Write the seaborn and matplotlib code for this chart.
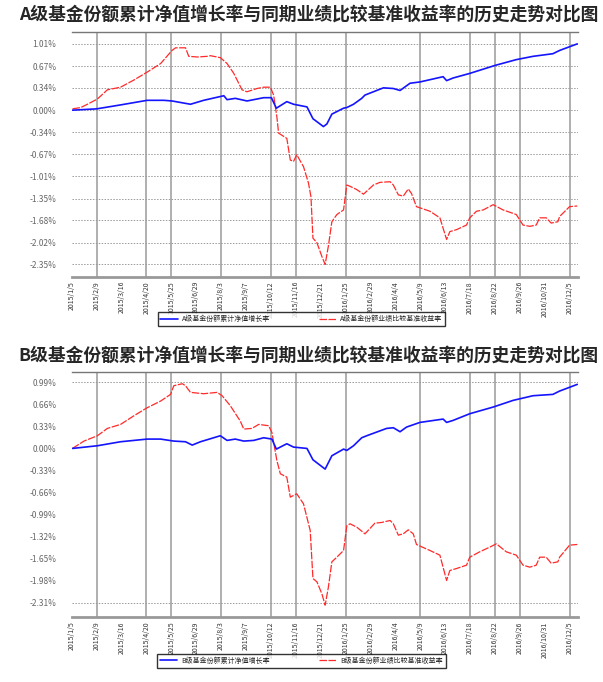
import numpy as np
import pandas as pd
import matplotlib
matplotlib.use("Agg")
import matplotlib.pyplot as plt
import seaborn as sns

sns.set_style("white")
plt.rcParams['font.family'] = ['Noto Sans CJK SC', 'DejaVu Sans']
plt.rcParams['axes.unicode_minus'] = False

# x axis: category-like date ticks, one label per step
date_labels = ['2015/1/5', '2015/2/9', '2015/3/16', '2015/4/20', '2015/5/25', '2015/6/29',
               '2015/8/3', '2015/9/7', '2015/10/12', '2015/11/16', '2015/12/21', '2016/1/25',
               '2016/2/29', '2016/4/4', '2016/5/9', '2016/6/13', '2016/7/18', '2016/8/22',
               '2016/9/26', '2016/10/31', '2016/12/5']
vgrid_idx = [1, 3, 4, 6, 8, 9, 11, 14, 16, 17, 18, 20]

# A share class
a_title = 'A级基金份额累计净值增长率与同期业绩比较基准收益率的历史走势对比图'
a_nav_label = 'A级基金份额累计净值增长率'
a_bm_label = 'A级基金份额业绩比较基准收益率'
a_ytick_vals = [1.01, 0.67, 0.34, 0.00, -0.34, -0.67, -1.01, -1.35, -1.68, -2.02, -2.35]
a_ytick_text = ['1.01%', '0.67%', '0.34%', '0.00%', '-0.34%', '-0.67%', '-1.01%',
                '-1.35%', '-1.68%', '-2.02%', '-2.35%']
a_nav_x = [0.03, 1.00, 1.96, 3.03, 3.70, 4.03, 4.77, 5.30, 6.11, 6.24, 6.57, 7.04, 7.71, 8.02,
           8.22, 8.64, 8.91, 9.45, 9.69, 10.11, 10.25, 10.45, 10.92, 11.05, 11.32, 11.65, 11.78,
           12.52, 12.92, 13.19, 13.59, 13.99, 14.92, 15.06, 15.32, 15.99, 16.99, 17.86, 18.53,
           19.33, 19.60, 20.31]
a_nav_y = [0.00, 0.02, 0.08, 0.15, 0.15, 0.14, 0.09, 0.15, 0.22, 0.16, 0.18, 0.14, 0.19, 0.19,
           0.03, 0.13, 0.09, 0.05, -0.13, -0.25, -0.21, -0.06, 0.03, 0.04, 0.09, 0.18, 0.23,
           0.34, 0.33, 0.30, 0.41, 0.43, 0.51, 0.45, 0.49, 0.56, 0.68, 0.77, 0.82,
           0.86, 0.91, 1.01]
a_bm_x = [0.03, 0.36, 0.63, 1.03, 1.43, 1.96, 2.50, 3.03, 3.57, 4.03, 4.17, 4.57, 4.70, 5.04,
          5.44, 5.57, 5.97, 6.24, 6.51, 6.84, 7.04, 7.44, 7.71, 7.98, 8.11, 8.24, 8.31, 8.64,
          8.78, 8.91, 9.04, 9.31, 9.51, 9.61, 9.69, 9.85, 10.05, 10.18, 10.31, 10.45, 10.65,
          10.92, 11.05, 11.18, 11.45, 11.72, 12.12, 12.38, 12.79, 12.92, 13.12, 13.32, 13.52,
          13.65, 13.85, 14.39, 14.79, 15.06, 15.19, 15.46, 15.86, 15.99, 16.26, 16.53, 16.93,
          17.33, 17.86, 18.13, 18.40, 18.66, 18.80, 19.06, 19.26, 19.53, 19.60, 20.00, 20.31]
a_bm_y = [0.02, 0.04, 0.09, 0.17, 0.31, 0.35, 0.46, 0.58, 0.71, 0.91, 0.95, 0.95, 0.82, 0.81,
          0.82, 0.83, 0.80, 0.71, 0.56, 0.31, 0.28, 0.33, 0.35, 0.35, 0.23, -0.10, -0.35, -0.43,
          -0.76, -0.78, -0.68, -0.86, -1.11, -1.32, -1.95, -2.02, -2.23, -2.35, -2.07, -1.70, -1.59,
          -1.52, -1.14, -1.16, -1.21, -1.28, -1.14, -1.10, -1.09, -1.14, -1.29, -1.31, -1.20,
          -1.27, -1.47, -1.54, -1.64, -1.97, -1.85, -1.82, -1.75, -1.64, -1.54, -1.52, -1.44,
          -1.52, -1.59, -1.75, -1.77, -1.75, -1.64, -1.64, -1.72, -1.70, -1.62, -1.47, -1.46]

# B share class
b_title = 'B级基金份额累计净值增长率与同期业绩比较基准收益率的历史走势对比图'
b_nav_label = 'B级基金份额累计净值增长率'
b_bm_label = 'B级基金份额业绩比较基准收益率'
b_ytick_vals = [0.99, 0.66, 0.33, 0.00, -0.33, -0.66, -0.99, -1.32, -1.65, -1.98, -2.31]
b_ytick_text = ['0.99%', '0.66%', '0.33%', '0.00%', '-0.33%', '-0.66%', '-0.99%',
                '-1.32%', '-1.65%', '-1.98%', '-2.31%']
b_nav_x = [0.03, 1.03, 1.96, 3.03, 3.57, 4.10, 4.57, 4.84, 5.17, 5.97, 6.24, 6.57, 6.91, 7.31,
           7.71, 8.04, 8.22, 8.64, 8.91, 9.45, 9.69, 10.18, 10.45, 10.92, 11.05, 11.32, 11.65,
           11.85, 12.65, 12.92, 13.19, 13.45, 13.99, 14.92, 15.06, 15.32, 15.99, 16.93, 17.73,
           18.53, 19.33, 19.60, 20.31]
b_nav_y = [0.00, 0.04, 0.10, 0.14, 0.14, 0.11, 0.10, 0.05, 0.10, 0.19, 0.12, 0.14, 0.11, 0.12,
           0.16, 0.14, -0.01, 0.07, 0.02, 0.00, -0.17, -0.31, -0.11, -0.01, -0.03, 0.04, 0.16,
           0.19, 0.30, 0.31, 0.25, 0.32, 0.39, 0.44, 0.39, 0.42, 0.52, 0.62, 0.72,
           0.79, 0.81, 0.86, 0.96]
b_bm_x = [0.03, 0.49, 1.03, 1.43, 1.96, 2.50, 3.03, 3.57, 3.97, 4.10, 4.44, 4.57, 4.77, 5.30,
          5.84, 6.04, 6.37, 6.77, 6.91, 7.24, 7.51, 7.91, 8.04, 8.24, 8.38, 8.64, 8.78, 9.04,
          9.31, 9.58, 9.69, 9.85, 10.05, 10.18, 10.31, 10.45, 10.65, 10.92, 11.05, 11.18, 11.45,
          11.78, 12.18, 12.45, 12.79, 12.92, 13.12, 13.32, 13.52, 13.72, 13.85, 14.39, 14.79,
          15.06, 15.19, 15.46, 15.86, 15.99, 16.39, 16.79, 17.06, 17.46, 17.86, 18.13, 18.40,
          18.66, 18.80, 19.06, 19.26, 19.53, 19.60, 20.00, 20.31]
b_bm_y = [0.00, 0.11, 0.19, 0.30, 0.36, 0.49, 0.61, 0.71, 0.81, 0.94, 0.97, 0.94, 0.84, 0.82,
          0.84, 0.79, 0.64, 0.41, 0.29, 0.30, 0.36, 0.34, 0.24, -0.18, -0.38, -0.43, -0.73, -0.68,
          -0.83, -1.23, -1.95, -2.00, -2.18, -2.35, -2.08, -1.70, -1.63, -1.53, -1.16, -1.13, -1.18,
          -1.28, -1.12, -1.11, -1.08, -1.13, -1.30, -1.28, -1.22, -1.28, -1.44, -1.53, -1.60,
          -1.98, -1.83, -1.80, -1.75, -1.63, -1.55, -1.48, -1.43, -1.55, -1.60, -1.75, -1.78,
          -1.75, -1.63, -1.63, -1.72, -1.70, -1.63, -1.45, -1.44]


def draw_panel(fig, rect, title, nav_x, nav_y, bm_x, bm_y, nav_label, bm_label,
               ytick_vals, ytick_text, ylim, full_hgrid, title_y, legend_y):
    ax = fig.add_axes(rect)
    sns.lineplot(x=bm_x, y=bm_y, ax=ax, sort=False, estimator=None, color='#ff2a2a',
                 linewidth=0.9, linestyle=(0, (6, 1.2)), label=bm_label, zorder=3)
    sns.lineplot(x=nav_x, y=nav_y, ax=ax, sort=False, estimator=None, color='#1414ff',
                 linewidth=1.2, label=nav_label, zorder=4)

    ax.set_xlim(0, 20.35)
    ax.set_ylim(*ylim)

    # vertical grid only at some date ticks
    for i in vgrid_idx:
        ax.axvline(i, color='#9a9a9a', linewidth=1.1, zorder=1)
    # dotted horizontal grid
    hvals = ytick_vals if full_hgrid else [ytick_vals[0], ytick_vals[-1]]
    for v in hvals:
        ax.axhline(v, color='#9a9a9a', linewidth=0.7, linestyle=(0, (1.5, 1.5)), zorder=1)

    ax.set_xticks(range(len(date_labels)))
    ax.set_xticklabels(date_labels, rotation=90, fontsize=5, color='#333333')
    ax.set_yticks(ytick_vals)
    ax.set_yticklabels(ytick_text, fontsize=6, color='#666666')
    ax.tick_params(axis='y', length=9, width=0.6, color='#aaaaaa', pad=2)
    ax.tick_params(axis='x', length=0, pad=3)
    ax.set_xlabel('')
    ax.set_ylabel('')

    for side in ['left', 'right']:
        ax.spines[side].set_visible(False)
    ax.spines['top'].set_color('#777777')
    ax.spines['top'].set_linewidth(1.0)
    ax.spines['bottom'].set_color('#999999')
    ax.spines['bottom'].set_linewidth(2.0)

    fig.text(0.512, title_y, title, ha='center', va='center', fontsize=12.8, fontweight='bold')

    handles, labels = ax.get_legend_handles_labels()
    order = [labels.index(nav_label), labels.index(bm_label)]
    ax.legend([handles[i] for i in order], [labels[i] for i in order],
              loc='center', bbox_to_anchor=(0.5, legend_y), bbox_transform=fig.transFigure,
              ncol=2, fontsize=5, frameon=True, fancybox=False, edgecolor='black',
              handlelength=2.5, columnspacing=7, borderpad=0.4, handletextpad=0.6)
    ax.get_legend().get_frame().set_linewidth(1.0)
    return ax


fig = plt.figure(figsize=(6.03, 6.82), dpi=100)

draw_panel(fig, [0.119, 0.594, 0.84, 0.359], a_title, a_nav_x, a_nav_y, a_bm_x, a_bm_y,
           a_nav_label, a_bm_label, a_ytick_vals, a_ytick_text, (-2.54, 1.19), True,
           0.978, 0.532)
draw_panel(fig, [0.119, 0.095, 0.84, 0.359], b_title, b_nav_x, b_nav_y, b_bm_x, b_bm_y,
           b_nav_label, b_bm_label, b_ytick_vals, b_ytick_text, (-2.53, 1.14), False,
           0.478, 0.031)

plt.savefig('out.png', dpi=100)
